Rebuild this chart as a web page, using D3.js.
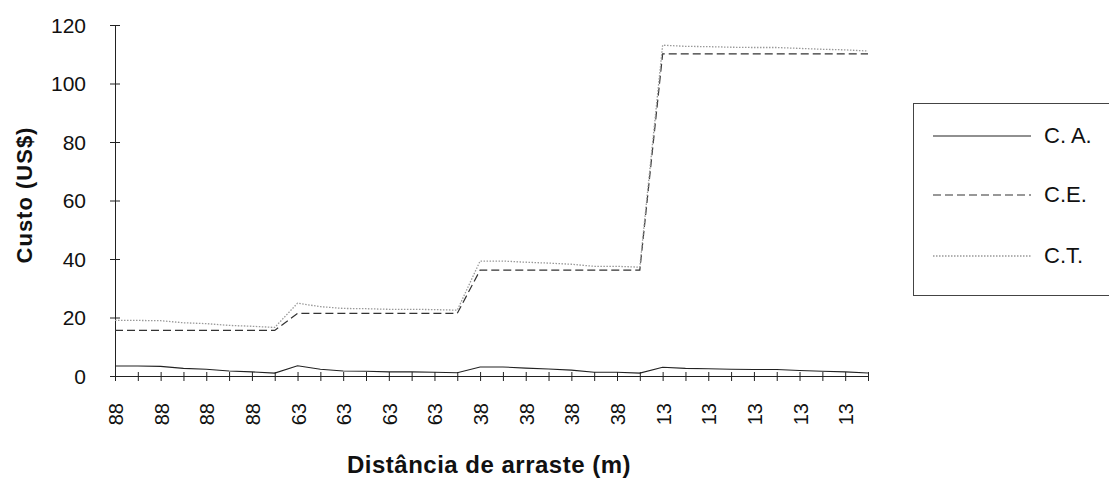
<!DOCTYPE html>
<html>
<head>
<meta charset="utf-8">
<script src="https://cdn.jsdelivr.net/npm/d3@7"></script>
<style>
  html, body { margin: 0; padding: 0; background: #fff; }
  svg { display: block; font-family: "Liberation Sans", Arial, sans-serif; }
</style>
</head>
<body>
<svg id="chart" width="1109" height="488"></svg>
<script>
// Distância de arraste por observação (rótulos do eixo X)
const categories = [
  "88","88","88","88","88","88","88","88",
  "63","63","63","63","63","63","63","63",
  "38","38","38","38","38","38","38","38",
  "13","13","13","13","13","13","13","13","13","13"
];

// Custo de arraste (C.A.)
const custoArraste = [
  3.4, 3.4, 3.3, 2.6, 2.3, 1.7, 1.4, 1.0,
  3.5, 2.3, 1.7, 1.6, 1.4, 1.4, 1.3, 1.1,
  3.1, 3.1, 2.7, 2.4, 2.0, 1.3, 1.3, 1.0,
  3.0, 2.6, 2.5, 2.3, 2.2, 2.2, 1.9, 1.6, 1.4, 1.0
];

// Custo de estrada (C.E.)
const custoEstrada = [
  15.6, 15.6, 15.6, 15.6, 15.6, 15.6, 15.6, 15.6,
  21.4, 21.4, 21.4, 21.4, 21.4, 21.4, 21.4, 21.4,
  36.2, 36.2, 36.2, 36.2, 36.2, 36.2, 36.2, 36.2,
  110.1, 110.1, 110.1, 110.1, 110.1, 110.1, 110.1, 110.1, 110.1, 110.1
];

// Custo total (C.T.)
const custoTotal = [
  19.0, 19.0, 18.9, 18.2, 17.9, 17.3, 17.0, 16.6,
  24.9, 23.7, 23.1, 23.0, 22.8, 22.8, 22.7, 22.5,
  39.3, 39.3, 38.9, 38.6, 38.2, 37.5, 37.5, 37.2,
  113.1, 112.7, 112.6, 112.4, 112.3, 112.3, 112.0, 111.7, 111.5, 111.1
];

const yTicks = [0, 20, 40, 60, 80, 100, 120];
const seriesNames = ["C. A.", "C.E.", "C.T."];

const svg = d3.select("#chart");
const ink = "#222";

const margin = { left: 115, right: 868, top: 25, bottom: 376 };

const x = d3.scalePoint()
  .domain(d3.range(categories.length))
  .range([margin.left, margin.right]);

const y = d3.scaleLinear()
  .domain([0, 120])
  .range([margin.bottom, margin.top]);

// Y axis
const yAxis = svg.append("g")
  .attr("transform", `translate(${margin.left},0)`)
  .call(d3.axisLeft(y).tickValues(yTicks).tickSize(5).tickPadding(24).tickFormat(d3.format("d")));
yAxis.select(".domain").attr("stroke", ink).attr("stroke-width", 1);
yAxis.selectAll(".tick line").attr("stroke", ink).attr("x1", -5).attr("x2", 5);
yAxis.selectAll(".tick text")
  .attr("fill", "#111")
  .style("font-size", "21px")
  .attr("dy", "0.35em");

// X axis: ticks at every observation, labels on alternate ones
const xAxis = svg.append("g")
  .attr("transform", `translate(0,${margin.bottom})`)
  .call(d3.axisBottom(x).tickSize(5).tickSizeOuter(0).tickFormat(() => ""));
xAxis.select(".domain").attr("stroke", ink).attr("stroke-width", 1);
xAxis.selectAll(".tick line").attr("stroke", ink).attr("y1", -4).attr("y2", 5);
xAxis.selectAll(".tick text").remove();

svg.append("g")
  .selectAll("text")
  .data(d3.range(0, categories.length, 2))
  .join("text")
  .attr("transform", i => `translate(${x(i) + 1},403) rotate(-90)`)
  .attr("text-anchor", "end")
  .attr("dy", "0.35em")
  .attr("fill", "#111")
  .style("font-size", "20px")
  .text(i => categories[i]);

// Axis titles
svg.append("text")
  .attr("transform", "translate(24,195) rotate(-90)")
  .attr("text-anchor", "middle")
  .attr("dy", "0.35em")
  .attr("fill", "#111")
  .style("font-size", "22px")
  .style("font-weight", "bold")
  .style("letter-spacing", "1px")
  .text("Custo (US$)");

svg.append("text")
  .attr("x", 489)
  .attr("y", 473)
  .attr("text-anchor", "middle")
  .attr("fill", "#111")
  .style("font-size", "24px")
  .style("font-weight", "bold")
  .style("letter-spacing", "0.5px")
  .text("Distância de arraste (m)");

// Series lines
const styles = [
  { stroke: "#222", width: 1.1, dash: null },
  { stroke: "#333", width: 1.2, dash: "8,4" },
  { stroke: "#999", width: 1.3, dash: "1.5,1.5" }
];
const seriesData = [custoArraste, custoEstrada, custoTotal];

const line = d3.line()
  .x((d, i) => x(i))
  .y(d => y(d));

svg.append("g")
  .selectAll("path")
  .data(seriesData)
  .join("path")
  .attr("d", d => line(d))
  .attr("fill", "none")
  .attr("stroke", (d, i) => styles[i].stroke)
  .attr("stroke-width", (d, i) => styles[i].width)
  .attr("stroke-dasharray", (d, i) => styles[i].dash);

// Legend
const legend = svg.append("g");
legend.append("rect")
  .attr("x", 913.5)
  .attr("y", 103.5)
  .attr("width", 210)
  .attr("height", 192)
  .attr("fill", "none")
  .attr("stroke", "#444")
  .attr("stroke-width", 1);

const legendY = [136, 195, 256];
const items = legend.selectAll("g.item")
  .data(seriesNames)
  .join("g")
  .attr("class", "item")
  .attr("transform", (d, i) => `translate(0,${legendY[i]})`);

items.append("line")
  .attr("x1", 933).attr("x2", 1031)
  .attr("y1", 0).attr("y2", 0)
  .attr("stroke", (d, i) => styles[i].stroke)
  .attr("stroke-width", (d, i) => styles[i].width)
  .attr("stroke-dasharray", (d, i) => styles[i].dash);

items.append("text")
  .attr("x", 1044)
  .attr("y", 0)
  .attr("dy", "0.33em")
  .attr("fill", "#111")
  .style("font-size", "22px")
  .text(d => d);
</script>
</body>
</html>
